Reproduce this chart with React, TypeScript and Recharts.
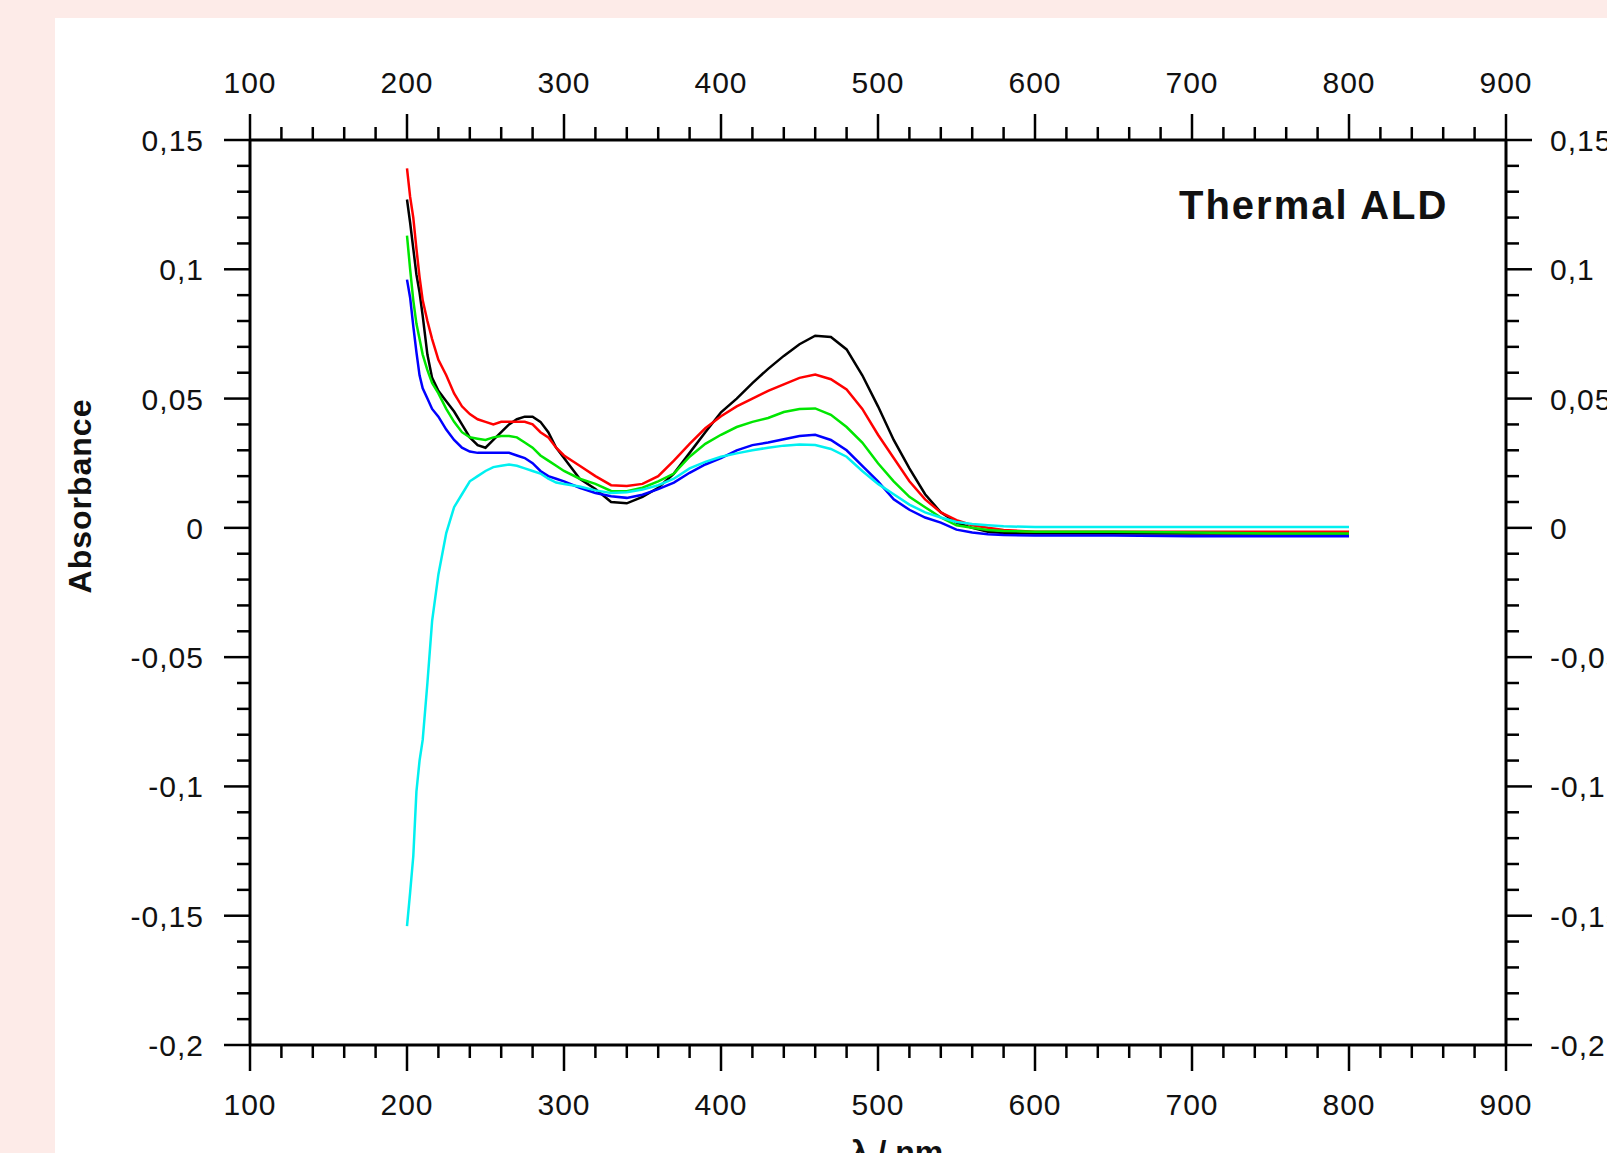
import React from "react";
import { LineChart, Line, XAxis, YAxis } from "recharts";

const wavelengths = [200, 202, 204, 206, 208, 210, 213, 216, 220, 225, 230, 235, 240, 245, 250, 255, 260, 265, 270, 275, 280, 285, 290, 295, 300, 310, 320, 330, 340, 350, 360, 370, 380, 390, 400, 410, 420, 430, 440, 450, 460, 470, 480, 490, 500, 510, 520, 530, 540, 550, 560, 570, 580, 600, 650, 700, 750, 800];

const blackSeries = [0.127, 0.118, 0.108, 0.098, 0.091, 0.082, 0.067, 0.058, 0.053, 0.049, 0.045, 0.040, 0.035, 0.032, 0.031, 0.034, 0.037, 0.040, 0.042, 0.043, 0.043, 0.041, 0.037, 0.031, 0.027, 0.019, 0.015, 0.010, 0.0095, 0.012, 0.0155, 0.021, 0.029, 0.037, 0.0447, 0.050, 0.056, 0.0615, 0.0665, 0.071, 0.0743, 0.0738, 0.069, 0.059, 0.047, 0.034, 0.023, 0.013, 0.006, 0.002, 0.0, -0.0015, -0.002, -0.0022, -0.0022, -0.0022, -0.0022, -0.0022];

const redSeries = [0.139, 0.128, 0.120, 0.108, 0.097, 0.088, 0.080, 0.073, 0.065, 0.059, 0.052, 0.047, 0.044, 0.042, 0.041, 0.040, 0.041, 0.041, 0.041, 0.041, 0.040, 0.037, 0.035, 0.031, 0.028, 0.024, 0.020, 0.0165, 0.0162, 0.017, 0.020, 0.026, 0.0325, 0.0385, 0.0432, 0.047, 0.050, 0.053, 0.0555, 0.058, 0.0593, 0.0575, 0.0535, 0.046, 0.036, 0.027, 0.018, 0.011, 0.006, 0.003, 0.001, 0.0, -0.0008, -0.0015, -0.0015, -0.0015, -0.0015, -0.0015];

const greenSeries = [0.113, 0.100, 0.088, 0.079, 0.073, 0.067, 0.061, 0.056, 0.052, 0.046, 0.041, 0.037, 0.035, 0.0345, 0.034, 0.035, 0.0355, 0.0355, 0.035, 0.033, 0.031, 0.028, 0.026, 0.024, 0.022, 0.019, 0.017, 0.0143, 0.0142, 0.0155, 0.018, 0.021, 0.0275, 0.0325, 0.036, 0.039, 0.041, 0.0425, 0.0448, 0.046, 0.0462, 0.0437, 0.039, 0.033, 0.025, 0.018, 0.012, 0.008, 0.004, 0.001, 0.0, -0.0008, -0.0012, -0.0015, -0.0015, -0.0018, -0.0022, -0.0022];

const blueSeries = [0.096, 0.089, 0.078, 0.068, 0.059, 0.054, 0.050, 0.046, 0.043, 0.038, 0.034, 0.031, 0.0295, 0.029, 0.029, 0.029, 0.029, 0.029, 0.028, 0.027, 0.025, 0.022, 0.020, 0.019, 0.018, 0.0155, 0.0135, 0.0122, 0.0116, 0.0128, 0.015, 0.0175, 0.0213, 0.0245, 0.027, 0.030, 0.032, 0.033, 0.0343, 0.0355, 0.036, 0.034, 0.030, 0.024, 0.018, 0.011, 0.007, 0.004, 0.002, -0.0007, -0.0018, -0.0025, -0.0028, -0.003, -0.003, -0.0032, -0.0032, -0.0032];

const cyanSeries = [-0.154, -0.141, -0.127, -0.102, -0.090, -0.082, -0.060, -0.036, -0.018, -0.002, 0.008, 0.013, 0.018, 0.020, 0.022, 0.0235, 0.024, 0.0245, 0.024, 0.023, 0.022, 0.021, 0.019, 0.0175, 0.017, 0.016, 0.0145, 0.0135, 0.0138, 0.0148, 0.0165, 0.019, 0.023, 0.0255, 0.0275, 0.0288, 0.030, 0.031, 0.0318, 0.0322, 0.032, 0.0305, 0.0275, 0.022, 0.017, 0.013, 0.009, 0.006, 0.004, 0.0023, 0.0015, 0.001, 0.0006, 0.0003, 0.0003, 0.0003, 0.0003, 0.0003];

const xTicks = [100, 120, 140, 160, 180, 200, 220, 240, 260, 280, 300, 320, 340, 360, 380, 400, 420, 440, 460, 480, 500, 520, 540, 560, 580, 600, 620, 640, 660, 680, 700, 720, 740, 760, 780, 800, 820, 840, 860, 880, 900];
const yTicks = [-0.2, -0.19, -0.18, -0.17, -0.16, -0.15, -0.14, -0.13, -0.12, -0.11, -0.1, -0.09, -0.08, -0.07, -0.06, -0.05, -0.04, -0.03, -0.02, -0.01, 0, 0.01, 0.02, 0.03, 0.04, 0.05, 0.06, 0.07, 0.08, 0.09, 0.1, 0.11, 0.12, 0.13, 0.14, 0.15];

const rows = wavelengths.map((nm, i) => ({
  nm,
  black: blackSeries[i],
  red: redSeries[i],
  green: greenSeries[i],
  blue: blueSeries[i],
  cyan: cyanSeries[i],
}));

const FONT = "'Liberation Sans', Arial, sans-serif";
const TXT = "#111";

function fmtY(v: number) {
  return String(Math.round(v * 100) / 100).replace(".", ",");
}

function AxisTick(props: any) {
  const { x, y, payload, side } = props;
  const v = payload.value as number;
  const horizontal = side === "top" || side === "bottom";
  const major = horizontal ? Math.round(v) % 100 === 0 : Math.round(v * 100) % 5 === 0;
  const len = major ? 26 : 13;
  const sw = 2.5;
  const common = { fontFamily: FONT, fontSize: 30, fill: TXT, letterSpacing: 1 } as any;
  if (side === "bottom") {
    return (
      <g>
        <line x1={x} y1={y} x2={x} y2={y + len} stroke="#000" strokeWidth={sw} />
        {major && (
          <text x={x} y={y + 70} textAnchor="middle" {...common}>{String(v)}</text>
        )}
      </g>
    );
  }
  if (side === "top") {
    return (
      <g>
        <line x1={x} y1={y} x2={x} y2={y - len} stroke="#000" strokeWidth={sw} />
        {major && (
          <text x={x} y={y - 47} textAnchor="middle" {...common}>{String(v)}</text>
        )}
      </g>
    );
  }
  if (side === "left") {
    return (
      <g>
        <line x1={x} y1={y} x2={x - len} y2={y} stroke="#000" strokeWidth={sw} />
        {major && (
          <text x={x - 46} y={y + 11} textAnchor="end" {...common}>{fmtY(v)}</text>
        )}
      </g>
    );
  }
  return (
    <g>
      <line x1={x} y1={y} x2={x + len} y2={y} stroke="#000" strokeWidth={sw} />
      {major && (
        <text x={x + 44} y={y + 11} textAnchor="start" {...common}>{fmtY(v)}</text>
      )}
    </g>
  );
}

const axisLine = { stroke: "#000", strokeWidth: 3 };

export default function App() {
  return (
    <div style={{ position: "absolute", left: 0, top: 0, width: 1607, height: 1153, background: "#fdebe8", overflow: "hidden" }}>
      <div style={{ position: "absolute", left: 55, top: 18, right: 0, bottom: 0, background: "#fff" }} />
      <div style={{ position: "absolute", left: 0, top: 0 }}>
        <LineChart width={1607} height={1153} data={rows} margin={{ top: 0, right: 0, bottom: 0, left: 0 }}>
          <XAxis xAxisId="b" dataKey="nm" type="number" domain={[100, 900]} ticks={xTicks} interval={0} orientation="bottom" height={108} tickSize={0} tickMargin={0} tickLine={false} axisLine={axisLine} tick={(p: any) => <AxisTick {...p} side="bottom" />} allowDataOverflow />
          <XAxis xAxisId="t" dataKey="nm" type="number" domain={[100, 900]} ticks={xTicks} interval={0} orientation="top" height={140} tickSize={0} tickMargin={0} tickLine={false} axisLine={axisLine} tick={(p: any) => <AxisTick {...p} side="top" />} allowDataOverflow />
          <YAxis yAxisId="l" type="number" domain={[-0.2, 0.15]} ticks={yTicks} interval={0} orientation="left" width={250} tickSize={0} tickMargin={0} tickLine={false} axisLine={axisLine} tick={(p: any) => <AxisTick {...p} side="left" />} allowDataOverflow />
          <YAxis yAxisId="r" type="number" domain={[-0.2, 0.15]} ticks={yTicks} interval={0} orientation="right" width={101} tickSize={0} tickMargin={0} tickLine={false} axisLine={axisLine} tick={(p: any) => <AxisTick {...p} side="right" />} allowDataOverflow />
          <Line xAxisId="b" yAxisId="l" type="linear" dataKey="black" stroke="#000000" strokeWidth={2.5} dot={false} isAnimationActive={false} />
          <Line xAxisId="b" yAxisId="l" type="linear" dataKey="red" stroke="#ff0000" strokeWidth={2.5} dot={false} isAnimationActive={false} />
          <Line xAxisId="b" yAxisId="l" type="linear" dataKey="green" stroke="#00e600" strokeWidth={2.5} dot={false} isAnimationActive={false} />
          <Line xAxisId="b" yAxisId="l" type="linear" dataKey="blue" stroke="#0000ff" strokeWidth={2.5} dot={false} isAnimationActive={false} />
          <Line xAxisId="b" yAxisId="l" type="linear" dataKey="cyan" stroke="#00f0f0" strokeWidth={2.5} dot={false} isAnimationActive={false} />
        </LineChart>
      </div>
      <svg width={1607} height={1153} style={{ position: "absolute", left: 0, top: 0, pointerEvents: "none" }}>
        <text x={1179} y={219} fontFamily={FONT} fontWeight="bold" fontSize={40} letterSpacing={2} fill={TXT}>Thermal ALD</text>
        <text x={0} y={0} transform="translate(91,496) rotate(-90)" textAnchor="middle" fontFamily={FONT} fontWeight="bold" fontSize={32} letterSpacing={1} fill={TXT}>Absorbance</text>
        <text x={897} y={1163} textAnchor="middle" fontFamily={FONT} fontWeight="bold" fontSize={32} fill={TXT}>λ / nm</text>
      </svg>
    </div>
  );
}
